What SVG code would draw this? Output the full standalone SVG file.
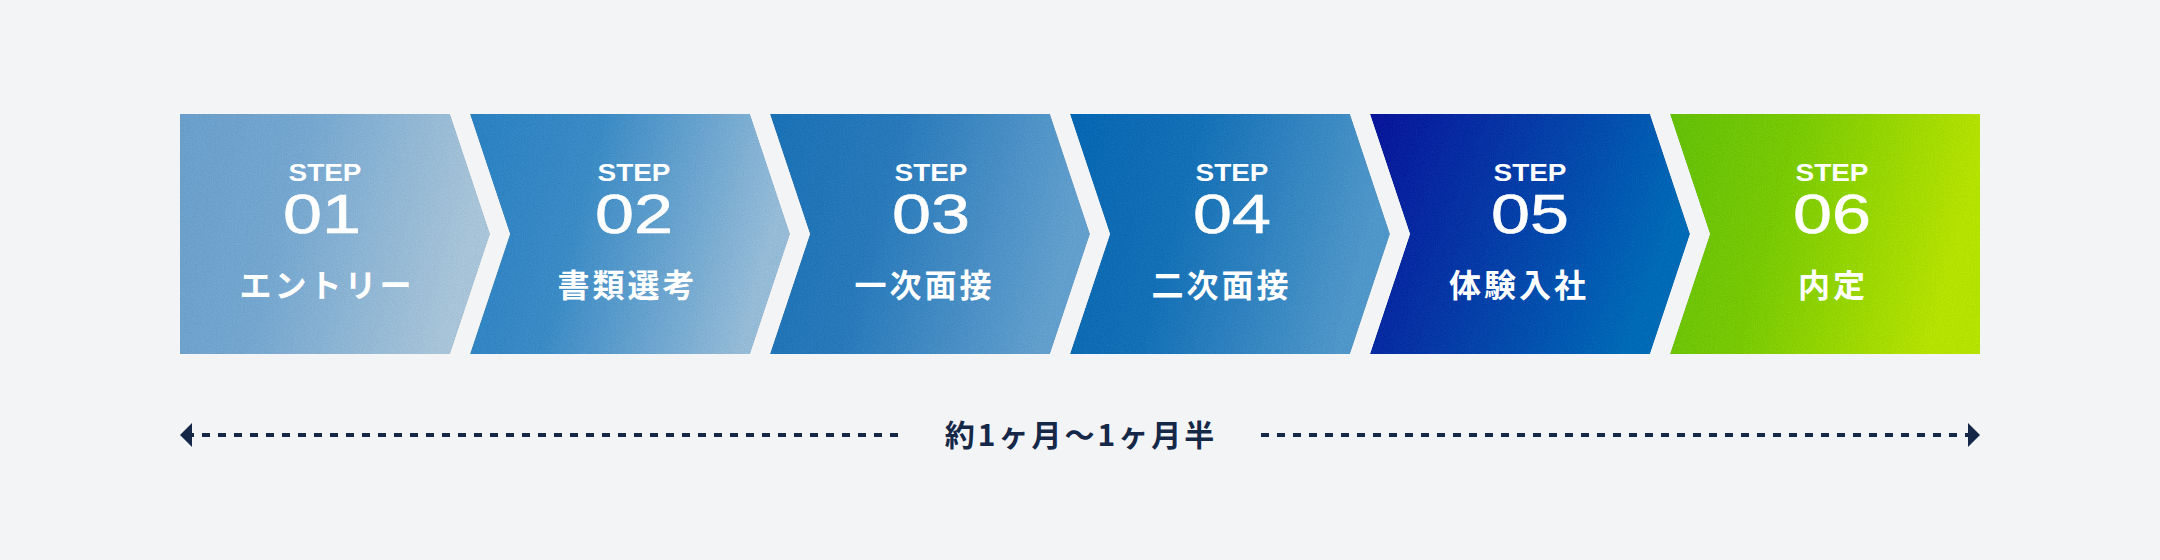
<svg xmlns="http://www.w3.org/2000/svg" width="2160" height="560" viewBox="0 0 2160 560">
<style>
.step{font-family:"Liberation Sans",Arial,sans-serif;font-weight:700;font-size:24px;fill:#fff;text-anchor:middle}
.num{font-family:"Liberation Sans",Arial,sans-serif;font-weight:400;font-size:55px;fill:#fff;text-anchor:middle;stroke:#fff;stroke-width:0.6}
.lbl{font-family:"Noto Sans CJK JP","Noto Sans",sans-serif;font-weight:700;font-size:32px;fill:#fff;text-anchor:middle;letter-spacing:3px}
.dur{font-family:"Noto Sans CJK JP","Noto Sans",sans-serif;font-weight:700;font-size:30px;fill:#152848;text-anchor:middle;letter-spacing:3px}
.dash{stroke:#152848;stroke-width:4;stroke-dasharray:8 8;fill:none}
.head{fill:#152848}
</style>
<defs>
<filter id="grain" x="0" y="0" width="1" height="1" color-interpolation-filters="sRGB">
<feTurbulence type="fractalNoise" baseFrequency="0.9" numOctaves="2" seed="3" result="n"/>
<feColorMatrix in="n" type="matrix" values="0.33 0.33 0.33 0 0  0.33 0.33 0.33 0 0  0.33 0.33 0.33 0 0  0 0 0 0 1" result="gray"/>
<feComposite in="SourceGraphic" in2="gray" operator="arithmetic" k1="0" k2="1" k3="0.14" k4="-0.07" result="mix"/>
<feComposite in="mix" in2="SourceGraphic" operator="in"/>
</filter>
<linearGradient id="g1" x1="0" y1="0" x2="1" y2="0.2"><stop offset="0" stop-color="#6a9fcb"/><stop offset="0.4" stop-color="#74a6cf"/><stop offset="1" stop-color="#a8c4d8"/></linearGradient>
<linearGradient id="g2" x1="0" y1="0" x2="1" y2="0.2"><stop offset="0" stop-color="#2a81c1"/><stop offset="0.4" stop-color="#3a8ac5"/><stop offset="1" stop-color="#95bbd7"/></linearGradient>
<linearGradient id="g3" x1="0" y1="0" x2="1" y2="0.2"><stop offset="0" stop-color="#1a71b5"/><stop offset="0.4" stop-color="#2879ba"/><stop offset="1" stop-color="#629fcd"/></linearGradient>
<linearGradient id="g4" x1="0" y1="0" x2="1" y2="0.2"><stop offset="0" stop-color="#0666b2"/><stop offset="0.4" stop-color="#1470b6"/><stop offset="1" stop-color="#5097c9"/></linearGradient>
<linearGradient id="g5" x1="0" y1="0" x2="1" y2="0.3"><stop offset="0" stop-color="#08149a"/><stop offset="0.45" stop-color="#0638a6"/><stop offset="1" stop-color="#006ab6"/></linearGradient>
<linearGradient id="g6" x1="0" y1="0" x2="1" y2="0.2"><stop offset="0" stop-color="#63bf08"/><stop offset="0.4" stop-color="#78c904"/><stop offset="1" stop-color="#b6e200"/></linearGradient>
</defs>
<rect width="2160" height="560" fill="#f3f4f6"/>
<g id="step1">
<path d="M180,114 H450 L490,234 L450,354 H180 Z" fill="url(#g1)" filter="url(#grain)"/>
<text class="step" x="325" y="181" textLength="73" lengthAdjust="spacingAndGlyphs">STEP</text>
<text class="num" x="322" y="233" textLength="78" lengthAdjust="spacingAndGlyphs">01</text>
<text class="lbl" x="327" y="297">エントリー</text>
</g>
<g id="step2">
<path d="M470,114 H750 L790,234 L750,354 H470 L510,234 Z" fill="url(#g2)" filter="url(#grain)"/>
<text class="step" x="634" y="181" textLength="73" lengthAdjust="spacingAndGlyphs">STEP</text>
<text class="num" x="634" y="233" textLength="78" lengthAdjust="spacingAndGlyphs">02</text>
<text class="lbl" x="627.5" y="297">書類選考</text>
</g>
<g id="step3">
<path d="M770,114 H1050 L1090,234 L1050,354 H770 L810,234 Z" fill="url(#g3)" filter="url(#grain)"/>
<text class="step" x="931" y="181" textLength="73" lengthAdjust="spacingAndGlyphs">STEP</text>
<text class="num" x="931" y="233" textLength="78" lengthAdjust="spacingAndGlyphs">03</text>
<text class="lbl" x="924.5" y="297">一次面接</text>
</g>
<g id="step4">
<path d="M1070,114 H1350 L1390,234 L1350,354 H1070 L1110,234 Z" fill="url(#g4)" filter="url(#grain)"/>
<text class="step" x="1232" y="181" textLength="73" lengthAdjust="spacingAndGlyphs">STEP</text>
<text class="num" x="1232" y="233" textLength="78" lengthAdjust="spacingAndGlyphs">04</text>
<text class="lbl" x="1221.5" y="297">二次面接</text>
</g>
<g id="step5">
<path d="M1370,114 H1650 L1690,234 L1650,354 H1370 L1410,234 Z" fill="url(#g5)" filter="url(#grain)"/>
<text class="step" x="1530" y="181" textLength="73" lengthAdjust="spacingAndGlyphs">STEP</text>
<text class="num" x="1530" y="233" textLength="78" lengthAdjust="spacingAndGlyphs">05</text>
<text class="lbl" x="1519" y="297">体験入社</text>
</g>
<g id="step6">
<path d="M1670,114 H1980 V354 H1670 L1710,234 Z" fill="url(#g6)" filter="url(#grain)"/>
<text class="step" x="1832" y="181" textLength="73" lengthAdjust="spacingAndGlyphs">STEP</text>
<text class="num" x="1832" y="233" textLength="78" lengthAdjust="spacingAndGlyphs">06</text>
<text class="lbl" x="1833" y="297">内定</text>
</g>
<g id="connectors">
<line class="dash" x1="186" y1="435" x2="898" y2="435"/>
<line class="dash" x1="1261" y1="435" x2="1974" y2="435"/>
<polygon class="head" points="180,435 192,423 192,447"/>
<polygon class="head" points="1980,435 1968,423 1968,447"/>
</g>
<g id="duration">
<text class="dur" x="1081" y="446">約1ヶ月〜1ヶ月半</text>
</g>
</svg>
